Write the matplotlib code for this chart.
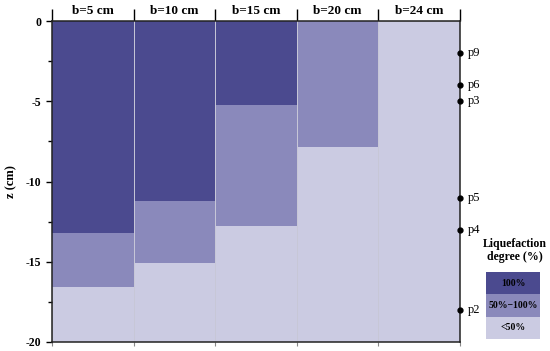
import matplotlib.pyplot as plt
from matplotlib.patches import Rectangle
from matplotlib.transforms import offset_copy

# widths of the trench (columns)
widths = ["b=5 cm", "b=10 cm", "b=15 cm", "b=20 cm", "b=24 cm"]
# depth where each zone ends (cm, negative down)
full_bottom = [-13.2, -11.2, -5.25, 0.0, 0.0]      # 100 %
half_bottom = [-16.6, -15.1, -12.8, -7.85, 0.0]    # 50%-100%
z_min = -20

# measurement points on right edge
p_names = ["p9", "p6", "p3", "p5", "p4", "p2"]
p_depth = [-2, -4, -5, -11, -13, -18]

legend_labels = ["100%", "50%\u2212100%", "<50%"]
colors = ["#4b4a8f", "#8a89bb", "#cbcbe2"]

plt.rcParams['font.family'] = ['Liberation Serif', 'DejaVu Serif']

fig = plt.figure(figsize=(5.5, 3.51), dpi=100)
ax = fig.add_axes([52/550, 1-342/351, 408/550, 321/351])

x = list(range(len(widths)))
# light zone (whole column), then medium, then dark
ax.bar(x, [0 - z_min]*len(x), bottom=z_min, width=1, align='edge',
       color=colors[2], edgecolor='#b0b0b8', linewidth=0.6)
ax.bar(x, [-h for h in half_bottom], bottom=half_bottom, width=1, align='edge',
       color=colors[1], edgecolor='none')
ax.bar(x, [-h for h in full_bottom], bottom=full_bottom, width=1, align='edge',
       color=colors[0], edgecolor='none')
# thin separators between columns
for i in range(1, len(widths)):
    ax.axvline(i, color='#c8c8d8', linewidth=0.7)

ax.set_xlim(0, len(widths))
ax.set_ylim(z_min, 0)
ax.set_yticks([0, -5, -10, -15, -20])
ax.set_yticklabels(['0', '-5', '-10', '-15', '-20'])
ax.set_yticks([-2.5, -7.5, -12.5, -17.5], minor=True)
ax.tick_params(axis='y', which='major', length=4, width=1, labelsize=8.5)
ax.tick_params(axis='y', which='minor', length=3, width=1)
for lab in ax.get_yticklabels():
    lab.set_fontweight('bold')
ax.set_ylabel('z (cm)', fontsize=9, fontweight='bold', labelpad=6)

ax.set_xticks(range(len(widths) + 1))
ax.set_xticklabels([])
ax.tick_params(axis='x', length=3, width=0.8, colors='#888888')

for s in ['left', 'bottom', 'right', 'top']:
    ax.spines[s].set_linewidth(1.1)
    ax.spines[s].set_color('#222222')

top = ax.secondary_xaxis('top')
top.set_xticks(range(len(widths) + 1))
top.set_xticklabels([])
top.tick_params(length=9, width=1, direction='out')
top.spines['top'].set_visible(False)

hdr = offset_copy(ax.get_xaxis_transform(), fig=fig, y=3, units='points')
for i, w in enumerate(widths):
    ax.text(i + 0.5, 1.0, w, transform=hdr,
            ha='center', va='bottom', fontsize=9.5, fontweight='bold')

ax.plot([len(widths)]*len(p_depth), p_depth, 'o', color='black',
        markersize=3.5, clip_on=False, zorder=5)
for n, d in zip(p_names, p_depth):
    ax.text(len(widths) + 0.09, d, n, ha='left', va='center', fontsize=9)

# legend
ax.text(5.67, -14.3, 'Liquefaction\ndegree (%)', ha='center', va='center',
        fontsize=8.5, fontweight='bold', linespacing=1.1)
box_top = -15.64
box_h = 1.39
for k, (lab, c) in enumerate(zip(legend_labels, colors)):
    y0 = box_top - (k + 1) * box_h
    ax.add_patch(Rectangle((5.32, y0), 0.66, box_h, facecolor=c,
                           edgecolor='none', clip_on=False))
    ax.text(5.65, y0 + box_h/2, lab, ha='center', va='center',
            fontsize=7, fontweight='bold')

fig.savefig('out.png', dpi=100)
